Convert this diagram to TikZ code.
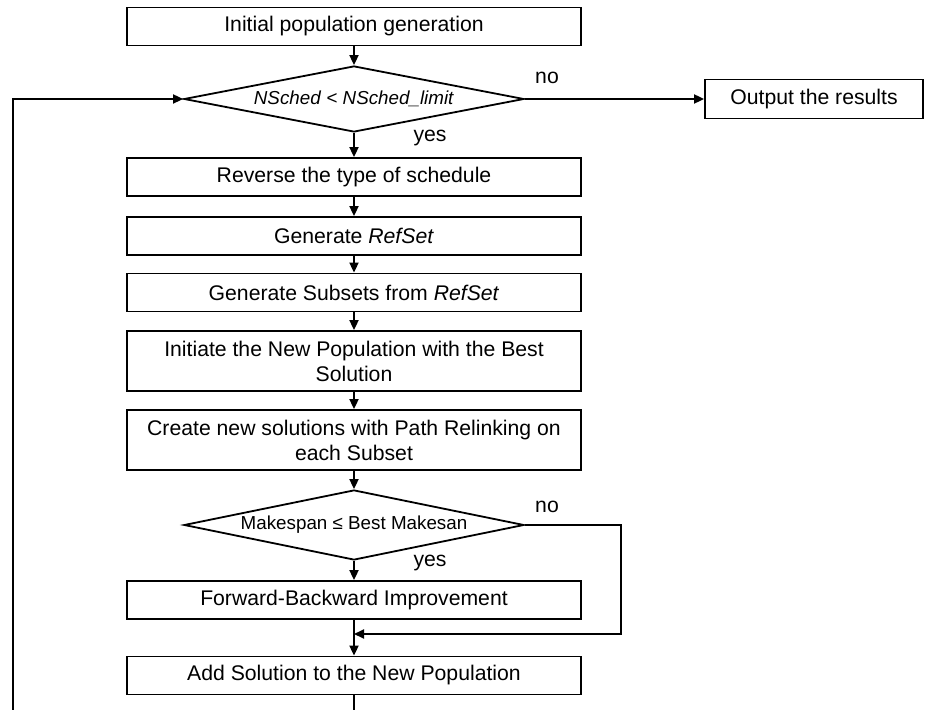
\documentclass[tikz,border=0pt]{standalone}
\usepackage{fontspec}
\setmainfont{Liberation Sans}
\usetikzlibrary{arrows.meta,shapes.geometric,positioning}

\begin{document}
\begin{tikzpicture}[x=0.5pt, y=-0.5pt, line width=0.9pt, >={Triangle[length=5pt,width=4.5pt]},
  every node/.style={font=\fontsize{10.6}{12.5}\selectfont},
  procbox/.style={draw, rectangle, inner sep=0pt, minimum width=227pt, minimum height=19pt, align=center},
  decide/.style={draw, diamond, aspect=5, inner sep=0pt, minimum width=170pt, minimum height=33pt, font=\fontsize{9.4}{11}\selectfont}]
\path[use as bounding box] (0,0) rectangle (925,710);
\node[procbox] (init) at (354,26.5) {Initial population generation};
\node[decide] (chk) at (354,99) {\textit{NSched} < \textit{NSched\_limit}};
\node[procbox, minimum width=109pt, minimum height=19.5pt] (out) at (814,99) {Output the results};
\node[procbox] (rev) at (354,177) {Reverse the type of schedule};
\node[procbox] (ref) at (354,236) {Generate \textit{RefSet}};
\node[procbox] (sub) at (354,292.5) {Generate Subsets from \textit{RefSet}};
\node[procbox, minimum height=30pt] (ini) at (354,361) {Initiate the New Population with the Best\\Solution};
\node[procbox, minimum height=30pt] (crt) at (354,440) {Create new solutions with Path Relinking on\\each Subset};
\node[decide, minimum height=35pt] (cmp) at (354,525) {Makespan ≤ Best Makesan};
\node[procbox] (fb) at (354,600) {Forward-Backward Improvement};
\node[procbox] (add) at (354,675.5) {Add Solution to the New Population};
\node (no1) at (547,78) {no};
\node (yes1) at (430,138.5) {yes};
\node (no2) at (547,507) {no};
\node (yes2) at (430,563) {yes};
\coordinate (join) at (354,634);
\coordinate (side) at (621,525);
\coordinate (cut) at (354,710);
\coordinate (back) at (13,710);

\draw[->] (init) -- (chk);
\draw[->] (chk) -- (out);
\draw[->] (chk) -- (rev);
\draw[->] (rev) -- (ref);
\draw[->] (ref) -- (sub);
\draw[->] (sub) -- (ini);
\draw[->] (ini) -- (crt);
\draw[->] (crt) -- (cmp);
\draw[->] (cmp) -- (fb);
\draw[->] (cmp.east) -- (side) |- (join);
\draw[->] (fb) -- (add);
\draw (add) -- (cut);
\draw[->] (back) |- (chk.west);
\end{tikzpicture}
\end{document}
